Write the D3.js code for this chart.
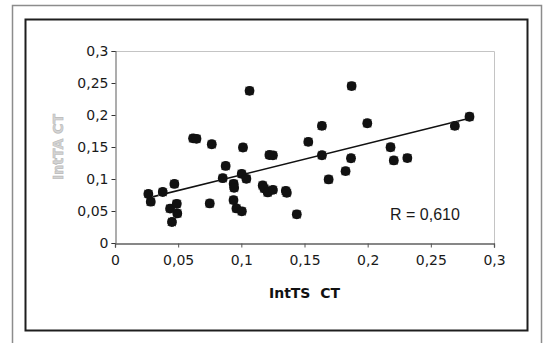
<!DOCTYPE html>
<html>
<head>
<meta charset="utf-8">
<script src="https://cdn.jsdelivr.net/npm/d3@7"></script>
<style>
  html, body { margin: 0; padding: 0; background: #fff; }
  svg { display: block; }
</style>
</head>
<body>
<svg id="chart" width="548" height="343"></svg>
<script>
// ---- data ----
const xValues = [0.0264, 0.0283, 0.0378, 0.0470, 0.0436, 0.0489, 0.0493, 0.0451,
  0.0618, 0.0645, 0.0766, 0.0750, 0.0853, 0.0876, 0.0939, 0.0943, 0.0938, 0.0961,
  0.1004, 0.1013, 0.1003, 0.1040, 0.1065, 0.1169, 0.1182, 0.1209, 0.1250,
  0.1222, 0.1250, 0.1352, 0.1360, 0.1439, 0.1530, 0.1638, 0.1638, 0.1691,
  0.1825, 0.1868, 0.1873, 0.1997, 0.2181, 0.2207, 0.2314, 0.2690, 0.2806];
const yValues = [0.0766, 0.0645, 0.0797, 0.0923, 0.0537, 0.0612, 0.0462, 0.0328,
  0.1635, 0.1628, 0.1543, 0.0618, 0.1013, 0.1204, 0.0925, 0.0862, 0.0670, 0.0540,
  0.0495, 0.1492, 0.1080, 0.1003, 0.2377, 0.0900, 0.0850, 0.0790, 0.0830,
  0.1375, 0.1370, 0.0815, 0.0785, 0.0448, 0.1580, 0.1830, 0.1371, 0.0993,
  0.1123, 0.1324, 0.2452, 0.1871, 0.1496, 0.1290, 0.1327, 0.1830, 0.1973];
const trendX = [0.0264, 0.2806];
const trendY = [0.0705, 0.1948];
const xTicks = [0, 0.05, 0.1, 0.15, 0.2, 0.25, 0.3];
const yTicks = [0, 0.05, 0.1, 0.15, 0.2, 0.25, 0.3];
const xTitle = "IntTS  CT";
const yTitle = "IntTA CT";
const rLabel = "R = 0,610";

// ---- drawing ----
const svg = d3.select("#chart");
const fmt = v => String(v).replace(".", ",");

// outer frames
svg.append("rect").attr("x", 12.5).attr("y", 5.5).attr("width", 529).attr("height", 360)
  .attr("fill", "none").attr("stroke", "#8c8c8c").attr("stroke-width", 1.5);
svg.append("rect").attr("x", 25.5).attr("y", 19.5).attr("width", 502).attr("height", 311)
  .attr("fill", "none").attr("stroke", "#1e1e1e").attr("stroke-width", 2);

const plot = { left: 115, right: 494, top: 51, bottom: 243 };
const x = d3.scaleLinear().domain([0, 0.3]).range([plot.left, plot.right]);
const y = d3.scaleLinear().domain([0, 0.3]).range([plot.bottom, plot.top]);

// plot area border (top / right)
svg.append("path")
  .attr("d", `M${plot.left},${plot.top + 0.5}H${plot.right + 0.5}V${plot.bottom}`)
  .attr("fill", "none").attr("stroke", "#c4c4c4").attr("stroke-width", 1);

// axes
const xAxis = d3.axisBottom(x).tickValues(xTicks).tickFormat(fmt).tickSize(4).tickPadding(8);
const yAxis = d3.axisLeft(y).tickValues(yTicks).tickFormat(fmt).tickSize(4).tickPadding(3);

const gx = svg.append("g").attr("transform", `translate(0,${plot.bottom + 0.5})`).call(xAxis);
const gy = svg.append("g").attr("transform", `translate(${plot.left + 0.5},0)`).call(yAxis);

[gx, gy].forEach(g => {
  g.selectAll("text").attr("font-family", "'DejaVu Sans', Verdana, sans-serif")
    .attr("font-size", 14).attr("fill", "#1a1a1a");
});
gx.select(".domain").attr("stroke", "#111").attr("stroke-width", 1.2);
gx.selectAll(".tick line").attr("stroke", "#555");
gy.select(".domain").attr("stroke", "#777").attr("stroke-width", 1.2);
gy.selectAll(".tick line").attr("stroke", "#333");

// trend line
svg.append("line")
  .attr("x1", x(trendX[0])).attr("y1", y(trendY[0]))
  .attr("x2", x(trendX[1])).attr("y2", y(trendY[1]))
  .attr("stroke", "#111").attr("stroke-width", 1.6);

// points
const pts = xValues.map((v, i) => ({ x: v, y: yValues[i] }));
const gp = svg.append("g");
gp.selectAll("rect.m").data(pts).enter().append("rect").attr("class", "m")
  .attr("x", d => x(d.x) - 4).attr("y", d => y(d.y) - 4)
  .attr("width", 8).attr("height", 8)
  .attr("fill", "#1c1c1c").attr("stroke", "#8a8a8a").attr("stroke-width", 1)
  .attr("stroke-dasharray", "1 1");
gp.selectAll("circle.m").data(pts).enter().append("circle").attr("class", "m")
  .attr("cx", d => x(d.x)).attr("cy", d => y(d.y)).attr("r", 4.9)
  .attr("fill", "#111");

// titles
svg.append("text").attr("x", (plot.left + plot.right) / 2).attr("y", 298)
  .attr("text-anchor", "middle").style("white-space", "pre")
  .attr("font-family", "'DejaVu Sans', Verdana, sans-serif").attr("font-weight", "bold")
  .attr("font-size", 14).attr("fill", "#111").text(xTitle);

svg.append("text")
  .attr("transform", `translate(63,147) rotate(-90)`)
  .attr("text-anchor", "middle")
  .attr("font-family", "'DejaVu Sans', Verdana, sans-serif").attr("font-weight", "bold")
  .attr("font-size", 14).attr("fill", "#d4d4d4").attr("stroke", "#b8b8b8").attr("stroke-width", 0.6)
  .text(yTitle);

svg.append("text").attr("x", 390).attr("y", 220)
  .attr("font-family", "'Liberation Sans', Arial, sans-serif")
  .attr("font-size", 16).attr("fill", "#1a1a1a").text(rLabel);
</script>
</body>
</html>
